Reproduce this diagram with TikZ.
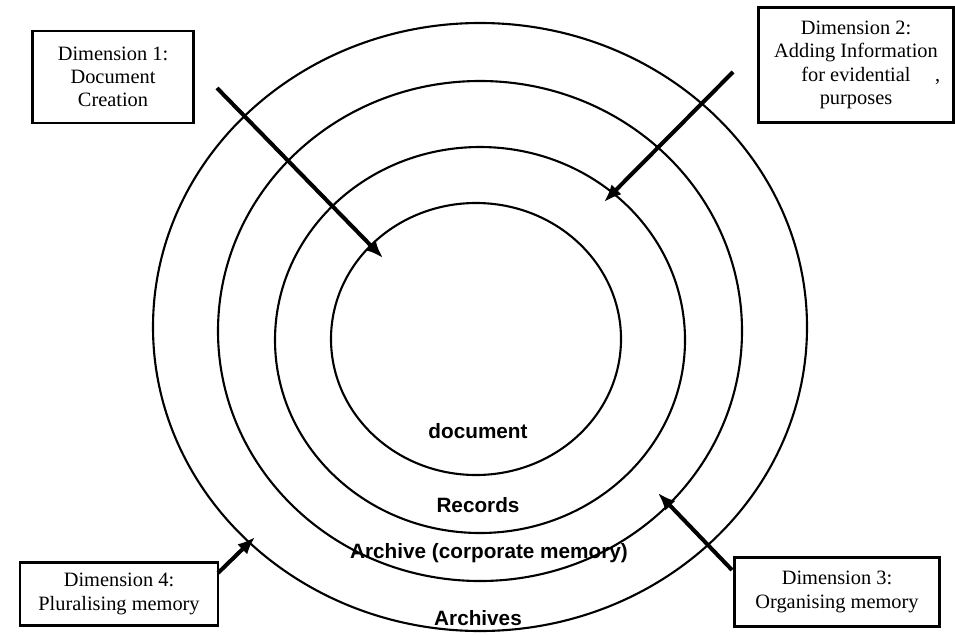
\documentclass[tikz,border=0pt]{standalone}
\usepackage{fontspec}
\setmainfont{Liberation Serif}
\setsansfont{Liberation Sans}
\usetikzlibrary{arrows.meta}

\begin{document}
\begin{tikzpicture}[x=0.02cm, y=-0.02cm,
    anneau/.style={line width=1.2pt},
    fleche/.style={line width=2.3pt, -{Latex[length=10pt,width=8pt]}},
    boite/.style={draw, line width=1.2pt, align=center, inner sep=1pt,
        font=\fontsize{11.6}{13.2}\selectfont},
    etiquette/.style={font=\sffamily\bfseries\fontsize{11.8}{13}\selectfont}]
    \useasboundingbox (0,0) rectangle (955,635);

    \coordinate (O1) at (476,339);
    \coordinate (O2) at (480,340);
    \coordinate (O3) at (480,331);
    \coordinate (O4) at (480,327);

    % Les quatre anneaux
    \draw[anneau] (O1) ellipse [x radius=145, y radius=136];
    \draw[anneau] (O2) ellipse [x radius=205, y radius=193];
    \draw[anneau] (O3) ellipse [x radius=262, y radius=250];
    \draw[anneau] (O4) ellipse [x radius=327, y radius=304];

    \node[etiquette] (doc) at (478,431) {document};
    \node[etiquette] (rec) at (478,505) {Records};
    \node[etiquette] (arc) at (489,553) {Archive (corporate memory)};
    \node[etiquette] (arcs) at (478,618) {Archives};

    % Les boîtes des dimensions
    \node[boite, minimum width=3.22cm, minimum height=1.84cm] (dim1) at (113,77)
        {Dimension 1:\\Document\\Creation};
    \node[boite, minimum width=3.9cm, minimum height=2.3cm] (dim2) at (856,65)
        {Dimension 2:\\Adding Information\\for evidential\rlap{\hspace{1.2em},}\\purposes};
    \node[boite, minimum width=4.1cm, minimum height=1.38cm] (dim3) at (837,592)
        {Dimension 3:\\Organising memory};
    \node[boite, minimum width=3.96cm, minimum height=1.26cm] (dim4) at (119,594)
        {Dimension 4:\\Pluralising memory};

    \coordinate (d1) at (217,88);
    \coordinate (f1) at (383,258);
    \coordinate (d2) at (733,72);
    \coordinate (f2) at (604,202);
    \coordinate (d3) at (732,570);
    \coordinate (f3) at (658,493);
    \coordinate (d4) at (218,573);
    \coordinate (f4) at (255,537);

    \draw[fleche] (d1) -- (f1);
    \draw[fleche] (d2) -- (f2);
    \draw[fleche] (d3) -- (f3);
    \draw[fleche] (d4) -- (f4);
\end{tikzpicture}
\end{document}
